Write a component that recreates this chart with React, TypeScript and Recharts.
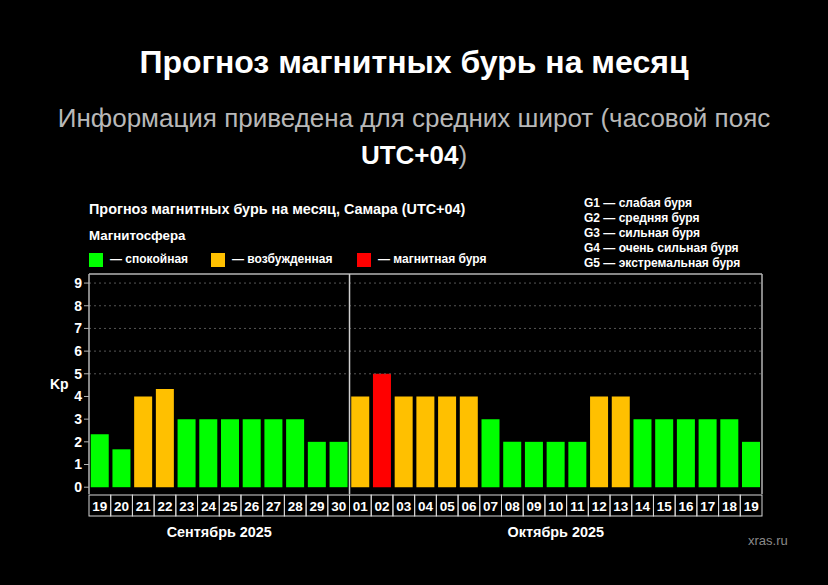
import React from "react";
import {
  Bar,
  BarChart,
  Cell,
  ReferenceLine,
  XAxis,
  YAxis,
} from "recharts";

// day labels, Sep 19 .. Oct 19
const DAYS = [
  "19", "20", "21", "22", "23", "24", "25", "26", "27", "28", "29", "30",
  "01", "02", "03", "04", "05", "06", "07", "08", "09", "10", "11", "12",
  "13", "14", "15", "16", "17", "18", "19",
];
const MONTHS = ["s", "s", "s", "s", "s", "s", "s", "s", "s", "s", "s", "s",
  "o", "o", "o", "o", "o", "o", "o", "o", "o", "o", "o", "o",
  "o", "o", "o", "o", "o", "o", "o"];
const KP = [
  2.33, 1.67, 4, 4.33, 3, 3, 3, 3, 3, 3, 2, 2,
  4, 5, 4, 4, 4, 4, 3, 2, 2, 2, 2, 4,
  4, 3, 3, 3, 3, 3, 2,
];
const KP_TICKS = [0, 1, 2, 3, 4, 5, 6, 7, 8, 9];
const G_LABELS: Record<number, string> = { 5: "G1", 6: "G2", 7: "G3", 8: "G4", 9: "G5" };
const G_LEGEND = [
  "G1 — слабая буря",
  "G2 — средняя буря",
  "G3 — сильная буря",
  "G4 — очень сильная буря",
  "G5 — экстремальная буря",
];

const GREEN = "#00ff00";
const ORANGE = "#ffc000";
const RED = "#ff0000";

const colorFor = (v: number) => (v >= 5 ? RED : v >= 4 ? ORANGE : GREEN);

const data = DAYS.map((d, i) => ({ id: MONTHS[i] + d, day: d, kp: KP[i] }));

const FONT = "'Liberation Sans', Arial, sans-serif";
const PLOT_LEFT = 89;
const PLOT_RIGHT = 762;
const BAND = (PLOT_RIGHT - PLOT_LEFT) / DAYS.length;

const DayTick = (props: any) => {
  const { x, y, index } = props;
  return (
    <g>
      <rect
        x={x - BAND / 2}
        y={y + 1}
        width={BAND}
        height={21}
        fill="none"
        stroke="#d8d8d8"
        strokeWidth={1}
      />
      <text
        x={x}
        y={y + 16.5}
        textAnchor="middle"
        fill="#ffffff"
        fontSize={13.5}
        fontWeight="bold"
        fontFamily={FONT}
      >
        {DAYS[index]}
      </text>
    </g>
  );
};

const abs = (style: React.CSSProperties): React.CSSProperties => ({
  position: "absolute",
  whiteSpace: "nowrap",
  fontFamily: FONT,
  ...style,
});

const Swatch = ({ left, color }: { left: number; color: string }) => (
  <div style={abs({ left, top: 253, width: 14, height: 14, background: color })} />
);

export default function App() {
  return (
    <div
      style={{
        position: "relative",
        width: 828,
        height: 585,
        background: "#000",
        overflow: "hidden",
        fontFamily: FONT,
      }}
    >
      <style>{`body{margin:0}`}</style>

      {/* ── headings ─────────────────────────────────────── */}
      <div
        style={abs({
          left: 0,
          width: 828,
          top: 42,
          textAlign: "center",
          color: "#fff",
          fontSize: 32,
          fontWeight: "bold",
          lineHeight: "40px",
        })}
      >
        Прогноз магнитных бурь на месяц
      </div>
      <div
        style={abs({
          left: 0,
          width: 828,
          top: 100,
          textAlign: "center",
          color: "#b8b8b8",
          fontSize: 26,
          lineHeight: "37px",
          whiteSpace: "normal",
        })}
      >
        Информация приведена для средних широт (часовой пояс
        <br />
        <span style={{ color: "#fff", fontWeight: "bold" }}>UTC+04</span>)
      </div>

      {/* ── chart header & legends ───────────────────────── */}
      <div style={abs({ left: 89, top: 201, color: "#fff", fontSize: 14.4, fontWeight: "bold" })}>
        Прогноз магнитных бурь на месяц, Самара (UTC+04)
      </div>
      <div style={abs({ left: 89, top: 228, color: "#fff", fontSize: 13.3, fontWeight: "bold" })}>
        Магнитосфера
      </div>
      <Swatch left={89} color={GREEN} />
      <div style={abs({ left: 110, top: 252, color: "#fff", fontSize: 12, fontWeight: "bold" })}>
        — спокойная
      </div>
      <Swatch left={211} color={ORANGE} />
      <div style={abs({ left: 232, top: 252, color: "#fff", fontSize: 12, fontWeight: "bold" })}>
        — возбужденная
      </div>
      <Swatch left={357} color={RED} />
      <div style={abs({ left: 378, top: 252, color: "#fff", fontSize: 12, fontWeight: "bold" })}>
        — магнитная буря
      </div>
      {G_LEGEND.map((t, i) => (
        <div
          key={t}
          style={abs({
            left: 584,
            top: 196 + i * 15,
            color: "#fff",
            fontSize: 12,
            fontWeight: "bold",
            lineHeight: "15px",
          })}
        >
          {t}
        </div>
      ))}
      <div style={abs({ left: 50, top: 376, color: "#fff", fontSize: 14, fontWeight: "bold" })}>
        Kp
      </div>

      {/* ── chart ────────────────────────────────────────── */}
      <div style={{ position: "absolute", left: 0, top: 0 }}>
        <BarChart
          width={828}
          height={585}
          data={data}
          margin={{ top: 274, right: 828 - PLOT_RIGHT - 40, bottom: 585 - 494 - 24, left: PLOT_LEFT - 30 }}
          barCategoryGap="8%"
          baseValue="dataMin"
        >
          <XAxis
            dataKey="id"
            axisLine={false}
            tickLine={false}
            tickSize={0}
            tickMargin={0}
            height={24}
            interval={0}
            tick={<DayTick />}
          />
          <YAxis
            yAxisId="kp"
            domain={[-0.3, 9.4]}
            ticks={KP_TICKS}
            interval={0}
            width={30}
            axisLine={{ stroke: "#b5b5b5", strokeWidth: 1.5 }}
            tickLine={{ stroke: "#b5b5b5" }}
            tickSize={5}
            tickMargin={2}
            tick={{ fill: "#fff", fontSize: 14, fontWeight: "bold", fontFamily: FONT }}
          />
          <YAxis
            yAxisId="g"
            orientation="right"
            domain={[-0.3, 9.4]}
            ticks={KP_TICKS}
            interval={0}
            width={40}
            axisLine={{ stroke: "#b5b5b5", strokeWidth: 1.5 }}
            tickLine={{ stroke: "#b5b5b5" }}
            tickSize={5}
            tickMargin={4}
            tickFormatter={(v: number) => G_LABELS[v] ?? ""}
            tick={{ fill: "#fff", fontSize: 14, fontWeight: "bold", fontFamily: FONT }}
          />
          {[5, 6, 7, 8, 9].map((v) => (
            <ReferenceLine
              key={v}
              yAxisId="kp"
              y={v}
              stroke="#555"
              strokeDasharray="2 3"
            />
          ))}
          <ReferenceLine yAxisId="kp" y={9.4} stroke="#b5b5b5" strokeWidth={1.5} />
          <Bar yAxisId="kp" dataKey="kp" isAnimationActive={false}>
            {data.map((d, i) => (
              <Cell key={`kp-${i}`} fill={colorFor(d.kp)} />
            ))}
          </Bar>
          <ReferenceLine
            yAxisId="kp"
            x="o01"
            position="start"
            stroke="#cfcfcf"
            strokeWidth={1.5}
          />
        </BarChart>
      </div>

      {/* ── month captions ───────────────────────────────── */}
      <div style={abs({ left: PLOT_LEFT, width: BAND * 12, top: 524, textAlign: "center", color: "#fff", fontSize: 14.4, fontWeight: "bold" })}>
        Сентябрь 2025
      </div>
      <div style={abs({ left: PLOT_LEFT + BAND * 12, width: BAND * 19, top: 524, textAlign: "center", color: "#fff", fontSize: 14.4, fontWeight: "bold" })}>
        Октябрь 2025
      </div>
      <div style={abs({ left: 748, top: 533, color: "#8a8a8a", fontSize: 13 })}>xras.ru</div>
    </div>
  );
}
